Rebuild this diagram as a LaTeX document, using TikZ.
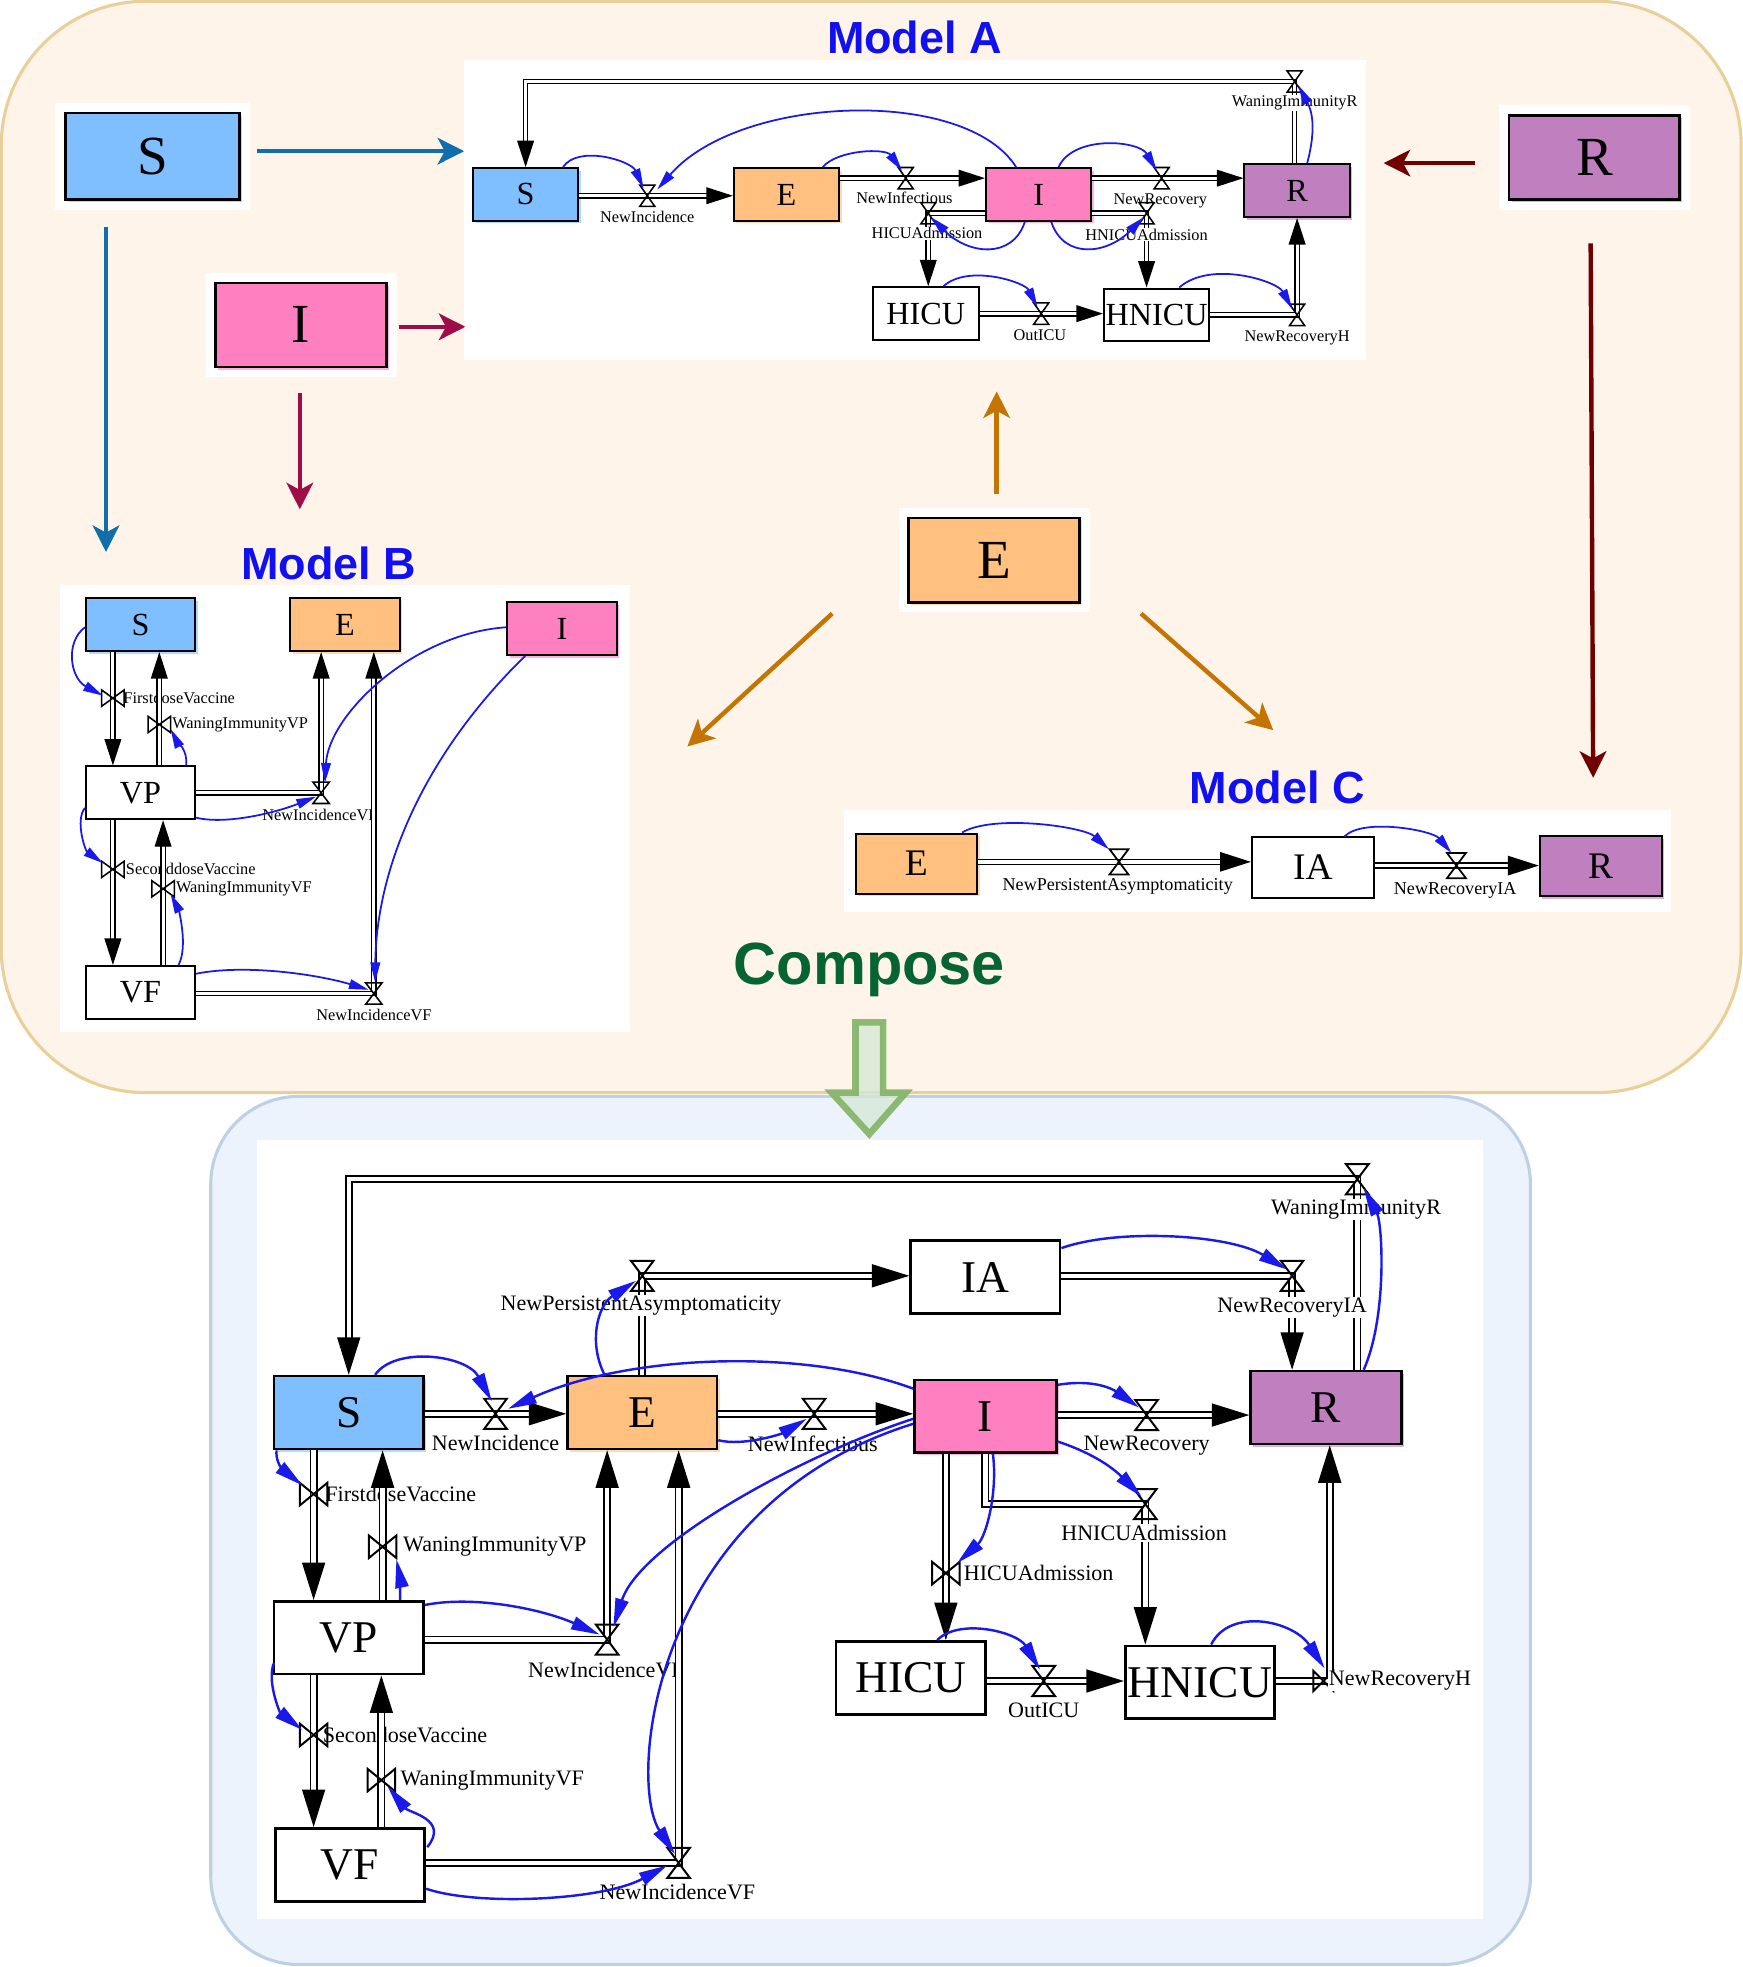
\documentclass[tikz,border=0pt]{standalone}
\usepackage{fontspec}
\setmainfont{Liberation Serif}
\newfontfamily\headfont{Liberation Sans}
\usetikzlibrary{arrows.meta,shadows}

\definecolor{stockS}{RGB}{128,191,255}
\definecolor{stockE}{RGB}{255,192,128}
\definecolor{stockI}{RGB}{255,128,192}
\definecolor{stockR}{RGB}{192,128,192}
\definecolor{infoblue}{RGB}{25,25,235}
\definecolor{feedS}{RGB}{16,110,170}
\definecolor{feedI}{RGB}{160,12,72}
\definecolor{feedR}{RGB}{112,0,0}
\definecolor{feedE}{RGB}{196,116,0}
\definecolor{peach}{RGB}{254,244,233}
\definecolor{peachline}{RGB}{233,207,152}
\definecolor{ice}{RGB}{236,243,252}
\definecolor{iceline}{RGB}{190,207,230}
\definecolor{headblue}{RGB}{16,16,240}
\definecolor{headgreen}{RGB}{6,100,50}
\definecolor{arrowfill}{RGB}{213,232,212}
\definecolor{arrowline}{RGB}{130,179,102}

\tikzset{
  hue/.style={fill=#1, drop shadow={shadow xshift=.6pt, shadow yshift=-.6pt, fill=#1!75, opacity=.8}},
  bigstock/.style={draw, line width=.6pt, inner sep=0pt, minimum width=13.6mm, minimum height=6.7mm,
    font=\fontsize{12.5}{12.5}\selectfont, preaction={draw=white, line width=4.6pt}},
  stockA/.style={draw, line width=.45pt, inner sep=0pt, minimum width=8.4mm, minimum height=4.2mm,
    font=\fontsize{7.3}{7.3}\selectfont},
  stockB/.style={stockA, minimum width=8.7mm},
  stockC/.style={stockA, minimum width=9.7mm, minimum height=4.8mm, font=\fontsize{8.5}{8.5}\selectfont},
  stockM/.style={draw, line width=.6pt, inner sep=0pt, minimum width=11.9mm, minimum height=5.8mm,
    font=\fontsize{10.3}{10.3}\selectfont},
  rateA/.style={fill=white, inner sep=.2pt, font=\fontsize{3.7}{3.7}\selectfont},
  rateC/.style={rateA, font=\fontsize{4.1}{4.1}\selectfont},
  rateM/.style={rateA, font=\fontsize{5}{5}\selectfont},
  flowA/.style={double, double distance=.7pt, line width=.3pt, -{Triangle[length=6pt,width=3.8pt]}},
  flowC/.style={double, double distance=.85pt, line width=.33pt, -{Triangle[length=7pt,width=4.4pt]}},
  flowM/.style={double, double distance=1pt, line width=.4pt, -{Triangle[length=8.5pt,width=5.2pt]}},
  infoA/.style={draw=infoblue, line width=.4pt, -{Triangle[length=4.5pt,width=2.2pt]}},
  infoM/.style={draw=infoblue, line width=.55pt, -{Triangle[length=6.5pt,width=3pt]}},
  feed/.style={draw=#1, line width=1pt, -{Stealth[length=6pt,width=6pt,inset=1.6pt]}},
  modeltitle/.style={font=\headfont\bfseries\fontsize{10.2}{10.2}\selectfont, text=headblue},
  pics/hglass/.style n args={2}{code={\draw (-#1,-#2) -- (#1,-#2) -- (-#1,#2) -- (#1,#2) -- cycle;}},
  pics/bowtie/.style n args={2}{code={\draw (-#1,-#2) -- (-#1,#2) -- (#1,-#2) -- (#1,#2) -- cycle;}},
}

\begin{document}
\begin{tikzpicture}[x=0.01cm, y=-0.01cm]
\useasboundingbox (0,0) rectangle (1389,1568);

% panels
\draw[fill=peach, draw=peachline, line width=.7pt, rounded corners=1.15cm] (1,1) rectangle (1388,871);
\draw[fill=ice, draw=iceline, line width=.7pt, rounded corners=.7cm] (168,874) rectangle (1220,1566);
\fill[white] (370,48) rectangle (1089,287);
\fill[white] (48,466) rectangle (502,823);
\fill[white] (673,646) rectangle (1332,727);
\fill[white] (205,909) rectangle (1182,1530);
\draw[draw=arrowline, fill=arrowfill, line width=1.5pt, draw opacity=.9, fill opacity=.75]
  (682,815) -- (704,815) -- (704,871) -- (722,871) -- (693,904) -- (663,871) -- (682,871) -- cycle;

\node[modeltitle] (tA) at (729,30) {Model A};
\node[modeltitle] (tB) at (262,449) {Model B};
\node[modeltitle] (tC) at (1018,628) {Model C};
\node[font=\headfont\bfseries\fontsize{13.5}{13.5}\selectfont, text=headgreen] (tM) at (693,773) {Compose};

% the four shared stocks
\node[bigstock, hue=stockS, minimum width=13.9mm, minimum height=6.9mm] (bigS) at (121.5,124.5) {S};
\node[bigstock, hue=stockI] (bigI) at (240,259) {I};
\node[bigstock, hue=stockR] (bigR) at (1271,125.5) {R};
\node[bigstock, hue=stockE] (bigE) at (792.5,446.5) {E};

\coordinate (inAS) at (370,120.5);
\coordinate (inBS) at (84.5,440);
\coordinate (inAI) at (371,260.5);
\coordinate (inBI) at (239,406);
\coordinate (inAR) at (1103,130);
\coordinate (inCR) at (1270,620);
\coordinate (inAE) at (794.5,312);
\coordinate (inBE) at (548,595);
\coordinate (inCE) at (1015,582);
\draw[feed=feedS] ([shift={(13,-4)}]bigS.east) -- (inAS);
\draw[feed=feedS] ([shift={(-37,21)}]bigS.south) -- (inBS);
\draw[feed=feedI] ([shift={(9,1.5)}]bigI.east) -- (inAI);
\draw[feed=feedI] ([shift={(-1,20)}]bigI.south) -- (inBI);
\draw[feed=feedR] ([shift={(-26,4.5)}]bigR.west) -- (inAR);
\draw[feed=feedR] ([shift={(-3,34)}]bigR.south) -- (inCR);
\draw[feed=feedE] ([shift={(2,-18)}]bigE.north) -- (inAE);
\draw[feed=feedE] ([shift={(-60,8)}]bigE.south west) -- (inBE);
\draw[feed=feedE] ([shift={(48,8)}]bigE.south east) -- (inCE);

% Model A
\node[stockA, hue=stockS] (aS) at (419,155) {S};
\node[stockA, hue=stockE] (aE) at (627,155) {E};
\node[stockA, hue=stockI] (aI) at (828,155) {I};
\node[stockA, hue=stockR] (aR) at (1034,152) {R};
\node[stockA, fill=white] (aHICU) at (738,250) {HICU};
\node[stockA, fill=white] (aHNICU) at (922,251) {HNICU};
\coordinate (aInc) at (516,156);
\coordinate (aInf) at (722,142);
\coordinate (aRec) at (926,142);
\coordinate (aWan) at (1032,65);
\coordinate (aHA) at (740,170);
\coordinate (aHNA) at (914,170);
\coordinate (aOut) at (830,250);
\coordinate (aRecH) at (1034,251);

\draw[flowA] (aS.east |- aInc) -- (aE.west |- aInc);
\draw[flowA] (aE.east |- aInf) -- (aI.west |- aInf);
\draw[flowA] (aI.east |- aRec) -- (aR.west |- aRec);
\draw[flowA] (aR.north -| aWan) -- (aWan) -| (aS.north);
\draw[flowA] (aI.west |- aHA) -- (aHA) -- (aHA |- aHICU.north);
\draw[flowA] (aI.east |- aHNA) -- (aHNA) -- (aHNA |- aHNICU.north);
\draw[flowA] (aHICU.east |- aOut) -- (aHNICU.west |- aOut);
\draw[flowA] (aHNICU.east |- aRecH) -- (aRecH) -- (aRecH |- aR.south);

\node[rateA] (laInc) at (516,173) {NewIncidence};
\node[rateA] (laInf) at (721,158) {NewInfectious};
\node[rateA] (laRec) at (925,160) {NewRecovery};
\node[rateA] (laWan) at (1032,82) {WaningImmunityR};
\node[rateA] (laHA) at (739,186) {HICUAdmission};
\node[rateA] (laHNA) at (914,187) {HNICUAdmission};
\node[rateA] (laOut) at (829,267) {OutICU};
\node[rateA] (laRecH) at (1034,269) {NewRecoveryH};

\foreach \v in {aInc,aInf,aRec,aWan,aHA,aHNA,aOut,aRecH}
  \pic[line width=.35pt] at (\v) {hglass={6}{8.5}};

\draw[infoA] ([shift={(-13,0)}]aS.north east) .. controls +(12,-18) and +(-10,-22) .. ([shift={(-3,-6)}]aInc);
\draw[infoA] ([shift={(-18,0)}]aI.north) .. controls +(-40,-64) and +(66,-76) .. ([shift={(8,-5)}]aInc);
\draw[infoA] ([shift={(-14,0)}]aE.north east) .. controls +(12,-14) and +(-13,-18) .. ([shift={(-3,-6)}]aInf);
\draw[infoA] ([shift={(-27,0)}]aI.north east) .. controls +(12,-26) and +(-14,-24) .. ([shift={(-4,-6)}]aRec);
\draw[infoA] ([shift={(-11,0)}]aI.south) .. controls +(-10,30) and +(30,30) .. ([shift={(2,3)}]aHA);
\draw[infoA] ([shift={(10,0)}]aI.south) .. controls +(10,30) and +(-30,30) .. ([shift={(-2,3)}]aHNA);
\draw[infoA] ([shift={(8,0)}]aR.north) .. controls +(8,-30) and +(10,19) .. ([shift={(3,3)}]aWan);
\draw[infoA] ([shift={(14,0)}]aHICU.north) .. controls +(20,-18) and +(-10,-20) .. ([shift={(-3,-5)}]aOut);
\draw[infoA] ([shift={(18,0)}]aHNICU.north) .. controls +(25,-22) and +(-12,-22) .. ([shift={(-4,-5)}]aRecH);

% Model B
\node[stockB, hue=stockS] (bS) at (112,498) {S};
\node[stockB, hue=stockE] (bE) at (275,498) {E};
\node[stockB, hue=stockI] (bI) at (448,501) {I};
\node[stockB, fill=white] (bVP) at (112,632) {VP};
\node[stockB, fill=white] (bVF) at (112,791) {VF};
\coordinate (bFD) at (90,556.5);
\coordinate (bWVP) at (127,577.5);
\coordinate (bNVP) at (256,632);
\coordinate (bSD) at (90,693);
\coordinate (bWVF) at (130,708.5);
\coordinate (bNVF) at (298,792);

\node[rateA, anchor=west] (lbFD) at (97,556.5) {FirstdoseVaccine};
\node[rateA, anchor=west] (lbWVP) at (136,577.5) {WaningImmunityVP};
\node[rateA] (lbNVP) at (255,650) {NewIncidenceVP};
\node[rateA, anchor=west] (lbSD) at (99,693) {SeconddoseVaccine};
\node[rateA, anchor=west] (lbWVF) at (139,708.5) {WaningImmunityVF};
\node[rateA] (lbNVF) at (298,809) {NewIncidenceVF};

\draw[flowA] (bS.south -| bFD) -- (bFD |- bVP.north);
\draw[flowA] (bVP.north -| bWVP) -- (bWVP |- bS.south);
\draw[flowA] (bVP.south -| bSD) -- (bSD |- bVF.north);
\draw[flowA] (bVF.north -| bWVF) -- (bWVF |- bVP.south);
\draw[flowA] (bVP.east |- bNVP) -- (bNVP) -- (bNVP |- bE.south);
\draw[flowA] (bVF.east |- bNVF) -- (bNVF) -- (bNVF |- bE.south);

\foreach \v in {bFD,bWVP,bSD,bWVF}
  \pic[line width=.35pt] at (\v) {bowtie={9}{6.5}};
\foreach \v in {bNVP,bNVF}
  \pic[line width=.35pt] at (\v) {hglass={6.5}{8.5}};

\draw[infoA] ([shift={(0,2)}]bS.west) .. controls +(-16,12) and +(-26,-14) .. ([shift={(-8,-2)}]bFD);
\draw[infoA] ([shift={(-8,0)}]bVP.north east) .. controls +(2,-12) and +(4,8) .. ([shift={(9,3.5)}]bWVP);
\draw[infoA] ([shift={(0,-2)}]bVP.south east) .. controls +(25,6) and +(-30,12) .. ([shift={(-4,3)}]bNVP);
\draw[infoA] ([shift={(0,-1)}]bI.west) .. controls +(-75,5) and +(3,-54) .. ([shift={(3,-8)}]bNVP);
\draw[infoA] ([shift={(0,12)}]bVP.west) .. controls +(-8,10) and +(-14,-10) .. ([shift={(-8,-5)}]bSD);
\draw[infoA] ([shift={(-14,0)}]bVF.north east) .. controls +(8,-15) and +(6,12) .. ([shift={(6,4)}]bWVF);
\draw[infoA] ([shift={(0,7)}]bVF.north east) .. controls +(40,-8) and +(-40,-12) .. ([shift={(-4,-3)}]bNVF);
\draw[infoA] ([shift={(15,0)}]bI.south west) .. controls +(-80,78) and +(1,-92) .. ([shift={(1,-9)}]bNVF);

% Model C
\node[stockC, hue=stockE] (cE) at (730.5,688.5) {E};
\node[stockC, fill=white] (cIA) at (1046.5,691.5) {IA};
\node[stockC, hue=stockR] (cR) at (1276,690.5) {R};
\coordinate (cPA) at (892,687);
\coordinate (cRIA) at (1161,690);
\draw[flowC] (cE.east |- cPA) -- (cIA.west |- cPA);
\draw[flowC] (cIA.east |- cRIA) -- (cR.west |- cRIA);
\node[rateC] (lcPA) at (891,707) {NewPersistentAsymptomaticity};
\node[rateC] (lcRIA) at (1160,710) {NewRecoveryIA};
\foreach \v in {cPA,cRIA}
  \pic[line width=.4pt] at (\v) {hglass={7.5}{10}};
\draw[infoA] ([shift={(-13,0)}]cE.north east) .. controls +(25,-15) and +(-20,-18) .. ([shift={(-8,-10)}]cPA);
\draw[infoA] ([shift={(-24,0)}]cIA.north east) .. controls +(15,-15) and +(-15,-18) .. ([shift={(-4,-10)}]cRIA);

% composed model
\node[stockM, hue=stockS] (mS) at (278,1126) {S};
\node[stockM, hue=stockE] (mE) at (512,1126) {E};
\node[stockM, hue=stockI, minimum width=11.3mm] (mI) at (785.5,1129) {I};
\node[stockM, hue=stockR, minimum width=12mm] (mR) at (1057,1122) {R};
\node[stockM, fill=white] (mIA) at (785.5,1018) {IA};
\node[stockM, fill=white] (mVP) at (278,1305.5) {VP};
\node[stockM, fill=white] (mVF) at (279,1486.5) {VF};
\node[stockM, fill=white] (mHICU) at (726,1337.5) {HICU};
\node[stockM, fill=white] (mHNICU) at (956.5,1341) {HNICU};
\coordinate (mWan) at (1082,940);
\coordinate (mPA) at (512,1017);
\coordinate (mRIA) at (1030,1017);
\coordinate (mInc) at (395,1127);
\coordinate (mInf) at (649,1127);
\coordinate (mRec) at (914,1128);
\coordinate (mHNA) at (913,1199);
\coordinate (mHA) at (754,1254);
\coordinate (mOut) at (832,1340);
\coordinate (mRecH) at (1060,1340);
\coordinate (mFD) at (250,1191);
\coordinate (mWVP) at (305,1233);
\coordinate (mSD) at (250,1383);
\coordinate (mWVF) at (304,1419);
\coordinate (mNVP) at (484,1307);
\coordinate (mNVF) at (541,1485);

\draw[flowM] (mR.north -| mWan) -- (mWan) -| (mS.north);
\draw[flowM] (mE.north -| mPA) -- (mPA) -- (mPA -| mIA.west);
\draw[flowM] (mIA.east |- mRIA) -- (mRIA) -- (mRIA |- mR.north);
\draw[flowM] (mS.east |- mInc) -- (mE.west |- mInc);
\draw[flowM] (mE.east |- mInf) -- (mI.west |- mInf);
\draw[flowM] (mI.east |- mRec) -- (mR.west |- mRec);
\draw[flowM] (mI.south) |- (mHNA) -- (mHNA |- mHNICU.north);
\draw[flowM] (mI.south -| mHA) -- (mHA |- mHICU.north);
\draw[flowM] (mHICU.east |- mOut) -- (mHNICU.west |- mOut);
\draw[flowM] (mHNICU.east |- mRecH) -- (mRecH) -- (mRecH |- mR.south);
\draw[flowM] (mS.south -| mFD) -- (mFD |- mVP.north);
\draw[flowM] (mVP.south -| mSD) -- (mSD |- mVF.north);
\draw[flowM] (mVP.east |- mNVP) -- (mNVP) -- (mNVP |- mE.south);
\pic[line width=.45pt] at ([shift={(-5,0)}]mRecH) {bowtie={8}{8}};

\node[rateM] (lmWan) at (1081,964) {WaningImmunityR};
\node[rateM] (lmPA) at (511,1041) {NewPersistentAsymptomaticity};
\node[rateM] (lmRIA) at (1030,1042) {NewRecoveryIA};
\node[rateM] (lmInc) at (395,1150) {NewIncidence};
\node[rateM] (lmInf) at (648,1151) {NewInfectious};
\node[rateM] (lmRec) at (914,1152) {NewRecovery};
\node[rateM] (lmHNA) at (912,1222) {HNICUAdmission};
\node[rateM, anchor=west] (lmHA) at (767,1254) {HICUAdmission};
\node[rateM, anchor=west] (lmFD) at (258,1191) {FirstdoseVaccine};
\node[rateM, anchor=west] (lmWVP) at (320,1233) {WaningImmunityVP};
\node[rateM] (lmNVP) at (483,1331) {NewIncidenceVP};
\node[rateM, anchor=west] (lmSD) at (256,1383) {SecondoseVaccine};
\node[rateM, anchor=west] (lmWVF) at (318,1419) {WaningImmunityVF};
\node[rateM] (lmNVF) at (540,1508) {NewIncidenceVF};
\node[rateM] (lmOut) at (832,1363) {OutICU};
\node[rateM, anchor=west] (lmRecH) at (1058,1340) {NewRecoveryH};

\draw[flowM] (mVP.north -| mWVP) -- (mWVP |- mS.south);
\draw[flowM] (mVF.north -| mWVF) -- (mWVF |- mVP.south);
\draw[flowM] (mVF.east |- mNVF) -- (mNVF) -- (mNVF |- mE.south);

\foreach \v in {mWan,mPA,mRIA,mInc,mInf,mRec,mHNA,mOut,mNVP,mNVF}
  \pic[line width=.45pt] at (\v) {hglass={9}{12}};
\foreach \v in {mHA,mFD,mWVP,mSD,mWVF}
  \pic[line width=.45pt] at (\v) {bowtie={11}{9}};

\draw[infoM] ([shift={(21,0)}]mS.north) .. controls +(16,-23) and +(-20,-37) .. ([shift={(-3,-10)}]mInc);
\draw[infoM] ([shift={(0,8)}]mI.north west) .. controls +(-89,-33) and +(95,-43) .. ([shift={(10,-4)}]mInc);
\draw[infoM] ([shift={(0,-8)}]mE.south east) .. controls +(20,5) and +(-20,12) .. ([shift={(-6,4)}]mInf);
\draw[infoM] ([shift={(-30,0)}]mE.north) .. controls +(-13,-25) and +(-31,20) .. ([shift={(-5,4)}]mPA);
\draw[infoM] ([shift={(0,5)}]mI.north east) .. controls +(30,-5) and +(-20,-14) .. ([shift={(-6,-6)}]mRec);
\draw[infoM] ([shift={(0,-10)}]mI.south east) .. controls +(30,10) and +(-22,-22) .. ([shift={(-3,-6)}]mHNA);
\draw[infoM] ([shift={(6,0)}]mI.south) .. controls +(4,31) and +(23,-21) .. ([shift={(9,-8)}]mHA);
\draw[infoM] ([shift={(0,7)}]mIA.north east) .. controls +(45,-16) and +(-46,-28) .. ([shift={(-4,-5)}]mRIA);
\draw[infoM] ([shift={(-31,0)}]mR.north east) .. controls +(19,-43) and +(15,28) .. ([shift={(5,7)}]mWan);
\draw[infoM] ([shift={(21,0)}]mHICU.north) .. controls +(18,-18) and +(-18,-30) .. ([shift={(-3,-9)}]mOut);
\draw[infoM] ([shift={(9,0)}]mHNICU.north) .. controls +(15,-30) and +(-25,-38) .. ([shift={(-4,-10)}]mRecH);
\draw[infoM] ([shift={(3,0)}]mS.south west) .. controls +(-1,14) and +(-10,-8) .. ([shift={(-9,-7)}]mFD);
\draw[infoM] ([shift={(41,0)}]mVP.north) .. controls +(0,-15) and +(2,10) .. ([shift={(11,10)}]mWVP);
\draw[infoM] ([shift={(0,4)}]mVP.north east) .. controls +(40,-8) and +(-45,-20) .. ([shift={(-6,-4)}]mNVP);
\draw[infoM] ([shift={(0,2)}]mI.west) .. controls +(-89,29) and +(21,-66) .. ([shift={(5,-10)}]mNVP);
\draw[infoM] ([shift={(0,6)}]mI.west) .. controls +(-209,65) and +(-38,-58) .. ([shift={(-3,-7)}]mNVF);
\draw[infoM] ([shift={(1,-10)}]mVP.south west) .. controls +(-6,14) and +(-18,-14) .. ([shift={(-9,-4)}]mSD);
\draw[infoM] ([shift={(1,16)}]mVF.north east) .. controls +(18,-22) and +(17,21) .. ([shift={(5,5)}]mWVF);
\draw[infoM] ([shift={(0,-11)}]mVF.south east) .. controls +(41,14) and +(-52,28) .. ([shift={(-9,2)}]mNVF);
\end{tikzpicture}
\end{document}
